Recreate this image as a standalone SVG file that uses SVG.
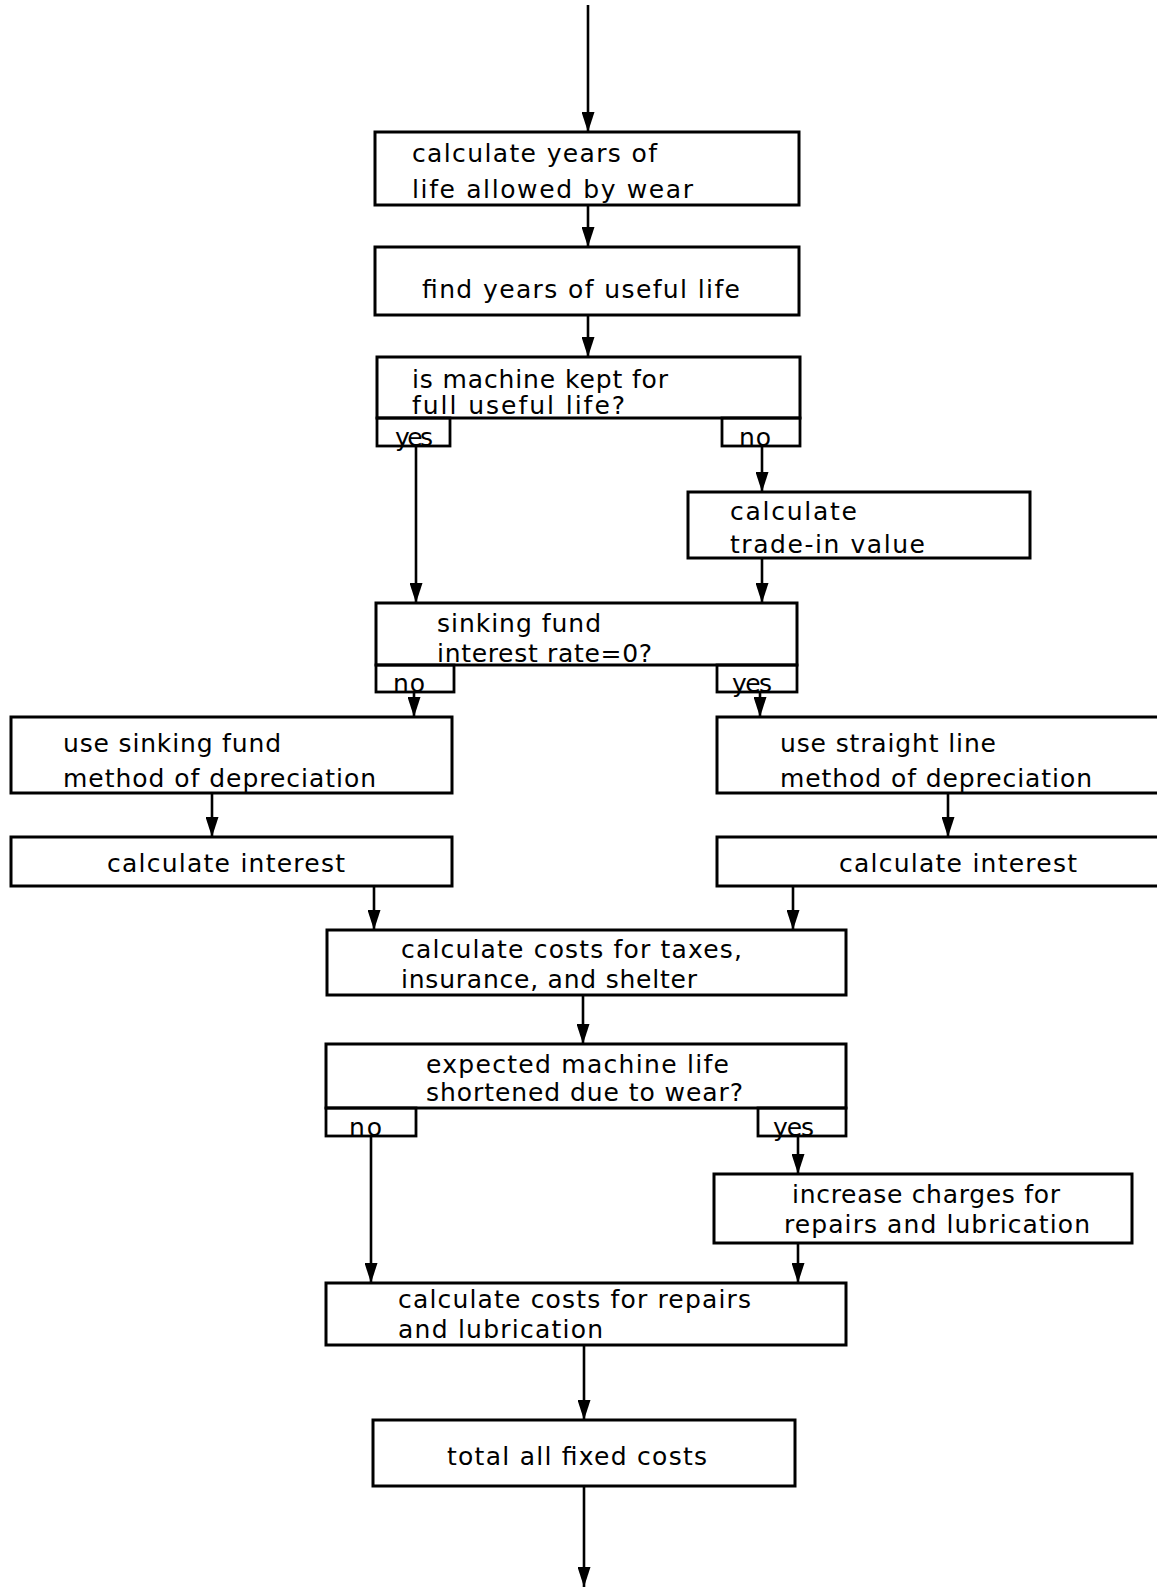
<svg xmlns="http://www.w3.org/2000/svg" width="1157" height="1587" viewBox="0 0 1157 1587">
<style>
.box{fill:#fff;stroke:#000;stroke-width:3}
.tab{fill:none;stroke:#000;stroke-width:2.8}
.t{font-family:"DejaVu Sans","Liberation Sans",sans-serif;font-size:25px;fill:#000}
.c{fill:none;stroke:#000;stroke-width:2.6}
</style>
<defs>
<marker id="ah" markerUnits="userSpaceOnUse" viewBox="0 0 20 13" refX="20" refY="6.5" markerWidth="20" markerHeight="13" orient="auto">
<path d="M0,0 L20,6.5 L0,13 z" fill="#000"/>
</marker>
</defs>
<rect width="1157" height="1587" fill="#fff"/>
<g id="connectors">
<line class="c" x1="588" y1="5" x2="588" y2="132" marker-end="url(#ah)"/>
<line class="c" x1="588" y1="205" x2="588" y2="247" marker-end="url(#ah)"/>
<line class="c" x1="588" y1="315" x2="588" y2="357" marker-end="url(#ah)"/>
<line class="c" x1="416" y1="446" x2="416" y2="603" marker-end="url(#ah)"/>
<line class="c" x1="762" y1="446" x2="762" y2="492" marker-end="url(#ah)"/>
<line class="c" x1="762" y1="558" x2="762" y2="603" marker-end="url(#ah)"/>
<line class="c" x1="414" y1="692" x2="414" y2="717" marker-end="url(#ah)"/>
<line class="c" x1="760" y1="692" x2="760" y2="717" marker-end="url(#ah)"/>
<line class="c" x1="212" y1="793" x2="212" y2="837" marker-end="url(#ah)"/>
<line class="c" x1="948" y1="793" x2="948" y2="837" marker-end="url(#ah)"/>
<line class="c" x1="374" y1="886" x2="374" y2="930" marker-end="url(#ah)"/>
<line class="c" x1="793" y1="886" x2="793" y2="930" marker-end="url(#ah)"/>
<line class="c" x1="583" y1="995" x2="583" y2="1044" marker-end="url(#ah)"/>
<line class="c" x1="371" y1="1136" x2="371" y2="1283" marker-end="url(#ah)"/>
<line class="c" x1="798" y1="1136" x2="798" y2="1174" marker-end="url(#ah)"/>
<line class="c" x1="798" y1="1243" x2="798" y2="1283" marker-end="url(#ah)"/>
<line class="c" x1="584" y1="1345" x2="584" y2="1420" marker-end="url(#ah)"/>
<line class="c" x1="584" y1="1486" x2="584" y2="1587" marker-end="url(#ah)"/>
</g>
<g id="n1">
<rect class="box" x="375" y="132" width="424" height="73"/>
<text class="t" x="412" y="162" textLength="245" lengthAdjust="spacing">calculate years of</text>
<text class="t" x="412" y="198" textLength="281" lengthAdjust="spacing">life allowed by wear</text>
</g>
<g id="n2">
<rect class="box" x="375" y="247" width="424" height="68"/>
<text class="t" x="422" y="298" textLength="318" lengthAdjust="spacing">find years of useful life</text>
</g>
<g id="d1">
<rect class="box" x="377" y="357" width="423" height="61"/>
<text class="t" x="412" y="388" textLength="256" lengthAdjust="spacing">is machine kept for</text>
<text class="t" x="412" y="414" textLength="213" lengthAdjust="spacing">full useful life?</text>
<rect class="tab" x="377" y="418" width="73" height="28"/>
<text class="t" x="395" y="446" textLength="38" lengthAdjust="spacing">yes</text>
<rect class="tab" x="722" y="418" width="78" height="28"/>
<text class="t" x="739" y="446" textLength="32" lengthAdjust="spacing">no</text>
</g>
<g id="n3">
<rect class="box" x="688" y="492" width="342" height="66"/>
<text class="t" x="730" y="520" textLength="127" lengthAdjust="spacing">calculate</text>
<text class="t" x="730" y="553" textLength="195" lengthAdjust="spacing">trade-in value</text>
</g>
<g id="d2">
<rect class="box" x="376" y="603" width="421" height="62"/>
<text class="t" x="437" y="632" textLength="164" lengthAdjust="spacing">sinking fund</text>
<text class="t" x="437" y="662" textLength="215" lengthAdjust="spacing">interest rate=0?</text>
<rect class="tab" x="376" y="665" width="78" height="27"/>
<text class="t" x="393" y="692" textLength="32" lengthAdjust="spacing">no</text>
<rect class="tab" x="717" y="665" width="80" height="27"/>
<text class="t" x="732" y="692" textLength="40" lengthAdjust="spacing">yes</text>
</g>
<g id="n4">
<rect class="box" x="11" y="717" width="441" height="76"/>
<text class="t" x="63" y="752" textLength="218" lengthAdjust="spacing">use sinking fund</text>
<text class="t" x="63" y="787" textLength="313" lengthAdjust="spacing">method of depreciation</text>
</g>
<g id="n5">
<rect class="box" x="717" y="717" width="460" height="76"/>
<text class="t" x="780" y="752" textLength="216" lengthAdjust="spacing">use straight line</text>
<text class="t" x="780" y="787" textLength="312" lengthAdjust="spacing">method of depreciation</text>
</g>
<g id="n6">
<rect class="box" x="11" y="837" width="441" height="49"/>
<text class="t" x="107" y="872" textLength="238" lengthAdjust="spacing">calculate interest</text>
</g>
<g id="n7">
<rect class="box" x="717" y="837" width="460" height="49"/>
<text class="t" x="839" y="872" textLength="238" lengthAdjust="spacing">calculate interest</text>
</g>
<g id="n8">
<rect class="box" x="327" y="930" width="519" height="65"/>
<text class="t" x="401" y="958" textLength="341" lengthAdjust="spacing">calculate costs for taxes,</text>
<text class="t" x="401" y="988" textLength="296" lengthAdjust="spacing">insurance, and shelter</text>
</g>
<g id="d3">
<rect class="box" x="326" y="1044" width="520" height="64"/>
<text class="t" x="426" y="1073" textLength="303" lengthAdjust="spacing">expected machine life</text>
<text class="t" x="426" y="1101" textLength="317" lengthAdjust="spacing">shortened due to wear?</text>
<rect class="tab" x="326" y="1108" width="90" height="28"/>
<text class="t" x="349" y="1136" textLength="33" lengthAdjust="spacing">no</text>
<rect class="tab" x="758" y="1108" width="88" height="28"/>
<text class="t" x="773" y="1136" textLength="41" lengthAdjust="spacing">yes</text>
</g>
<g id="n9">
<rect class="box" x="714" y="1174" width="418" height="69"/>
<text class="t" x="792" y="1203" textLength="268" lengthAdjust="spacing">increase charges for</text>
<text class="t" x="784" y="1233" textLength="306" lengthAdjust="spacing">repairs and lubrication</text>
</g>
<g id="n10">
<rect class="box" x="326" y="1283" width="520" height="62"/>
<text class="t" x="398" y="1308" textLength="353" lengthAdjust="spacing">calculate costs for repairs</text>
<text class="t" x="398" y="1338" textLength="205" lengthAdjust="spacing">and lubrication</text>
</g>
<g id="n11">
<rect class="box" x="373" y="1420" width="422" height="66"/>
<text class="t" x="447" y="1465" textLength="260" lengthAdjust="spacing">total all fixed costs</text>
</g>
</svg>
